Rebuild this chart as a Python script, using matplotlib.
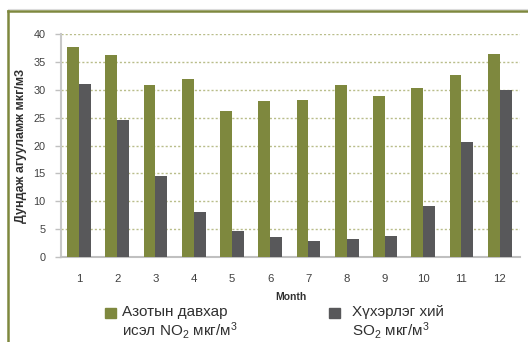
import matplotlib
matplotlib.use("Agg")
import matplotlib.pyplot as plt
from matplotlib.patches import Rectangle
from matplotlib.lines import Line2D
import numpy as np

plt.rcParams['font.family'] = ['Liberation Sans', 'DejaVu Sans']
plt.rcParams['mathtext.fontset'] = 'custom'
plt.rcParams['mathtext.rm'] = 'Liberation Sans'
plt.rcParams['mathtext.it'] = 'Liberation Sans:italic'
plt.rcParams['mathtext.bf'] = 'Liberation Sans:bold'

months = [1, 2, 3, 4, 5, 6, 7, 8, 9, 10, 11, 12]
no2 = [37.7, 36.3, 30.8, 31.9, 26.2, 27.9, 28.1, 30.8, 28.9, 30.4, 32.6, 36.5]
so2 = [31.0, 24.5, 14.6, 8.0, 4.7, 3.5, 2.8, 3.2, 3.7, 9.2, 20.6, 29.9]
yticks = [0, 5, 10, 15, 20, 25, 30, 35, 40]
label_no2 = "Азотын давхар\nисэл NO$_\\mathrm{2}$ мкг/м$^\\mathrm{3}$"
label_so2 = "Хүхэрлэг хий\nSO$_\\mathrm{2}$ мкг/м$^\\mathrm{3}$"
ylabel = "Дундаж агууламж мкг/м3"
xlabel = "Month"

c_no2 = "#7e883e"
c_so2 = "#58585a"

W, H = 528, 342
fig = plt.figure(figsize=(W / 100, H / 100), dpi=100)
ax = fig.add_axes([61 / W, 1 - 257 / H, (520 - 61) / W, (257 - 34) / H])

x = np.array(months, dtype=float)
bw = 0.31
ax.bar(x - bw / 2, no2, width=bw, color=c_no2, zorder=3)
ax.bar(x + bw / 2, so2, width=bw, color=c_so2, zorder=3)

ax.set_xlim(0.53, 12.53)
ax.set_ylim(0, 40)
ax.set_yticks(yticks)
ax.set_xticks(months)
ax.yaxis.grid(True, color="#b9bd8a", linestyle=(0, (1.5, 1.5)), linewidth=1.0, zorder=0)
ax.set_axisbelow(True)

for s in ["top", "right"]:
    ax.spines[s].set_visible(False)
ax.spines["left"].set_color("#c8c8c8")
ax.spines["left"].set_linewidth(1.5)
ax.spines["bottom"].set_color("#c0c0c0")
ax.spines["bottom"].set_linewidth(1.5)

ax.tick_params(axis="y", length=4, width=1, color="#c0c0c0", labelsize=7.8,
               labelcolor="#404040", pad=7)
ax.tick_params(axis="x", length=0, labelsize=8.2, labelcolor="#404040", pad=12)

ax.set_ylabel(ylabel, fontsize=9, fontweight="bold", color="#303030", labelpad=5)
ax.set_xlabel(xlabel, fontsize=7.5, fontweight="bold", color="#303030", labelpad=6)

# legend (manual)
fs = 11
fig.patches.append(Rectangle((105 / W, 1 - 318 / H), 11 / W, 10 / H,
                             transform=fig.transFigure, color=c_no2))
fig.text(122 / W, 1 - 305 / H, label_no2, fontsize=fs, color="#303030",
         va="top", ha="left", linespacing=1.05)
fig.patches.append(Rectangle((329 / W, 1 - 318 / H), 11 / W, 10 / H,
                             transform=fig.transFigure, color=c_so2))
fig.text(352 / W, 1 - 305 / H, label_so2, fontsize=fs, color="#303030",
         va="top", ha="left", linespacing=1.05)

# frame lines
fig.add_artist(Line2D([8 / W, 1], [1 - 10.5 / H, 1 - 10.5 / H], transform=fig.transFigure,
                      color="#7e883e", linewidth=1.8))
fig.add_artist(Line2D([8 / W, 1], [1 - 8.5 / H, 1 - 8.5 / H], transform=fig.transFigure,
                      color="#dcdcdc", linewidth=0.8))
fig.add_artist(Line2D([8 / W, 8 / W], [0, 1 - 10.5 / H], transform=fig.transFigure,
                      color="#7e883e", linewidth=1.8))

fig.savefig("out.png", dpi=100)
